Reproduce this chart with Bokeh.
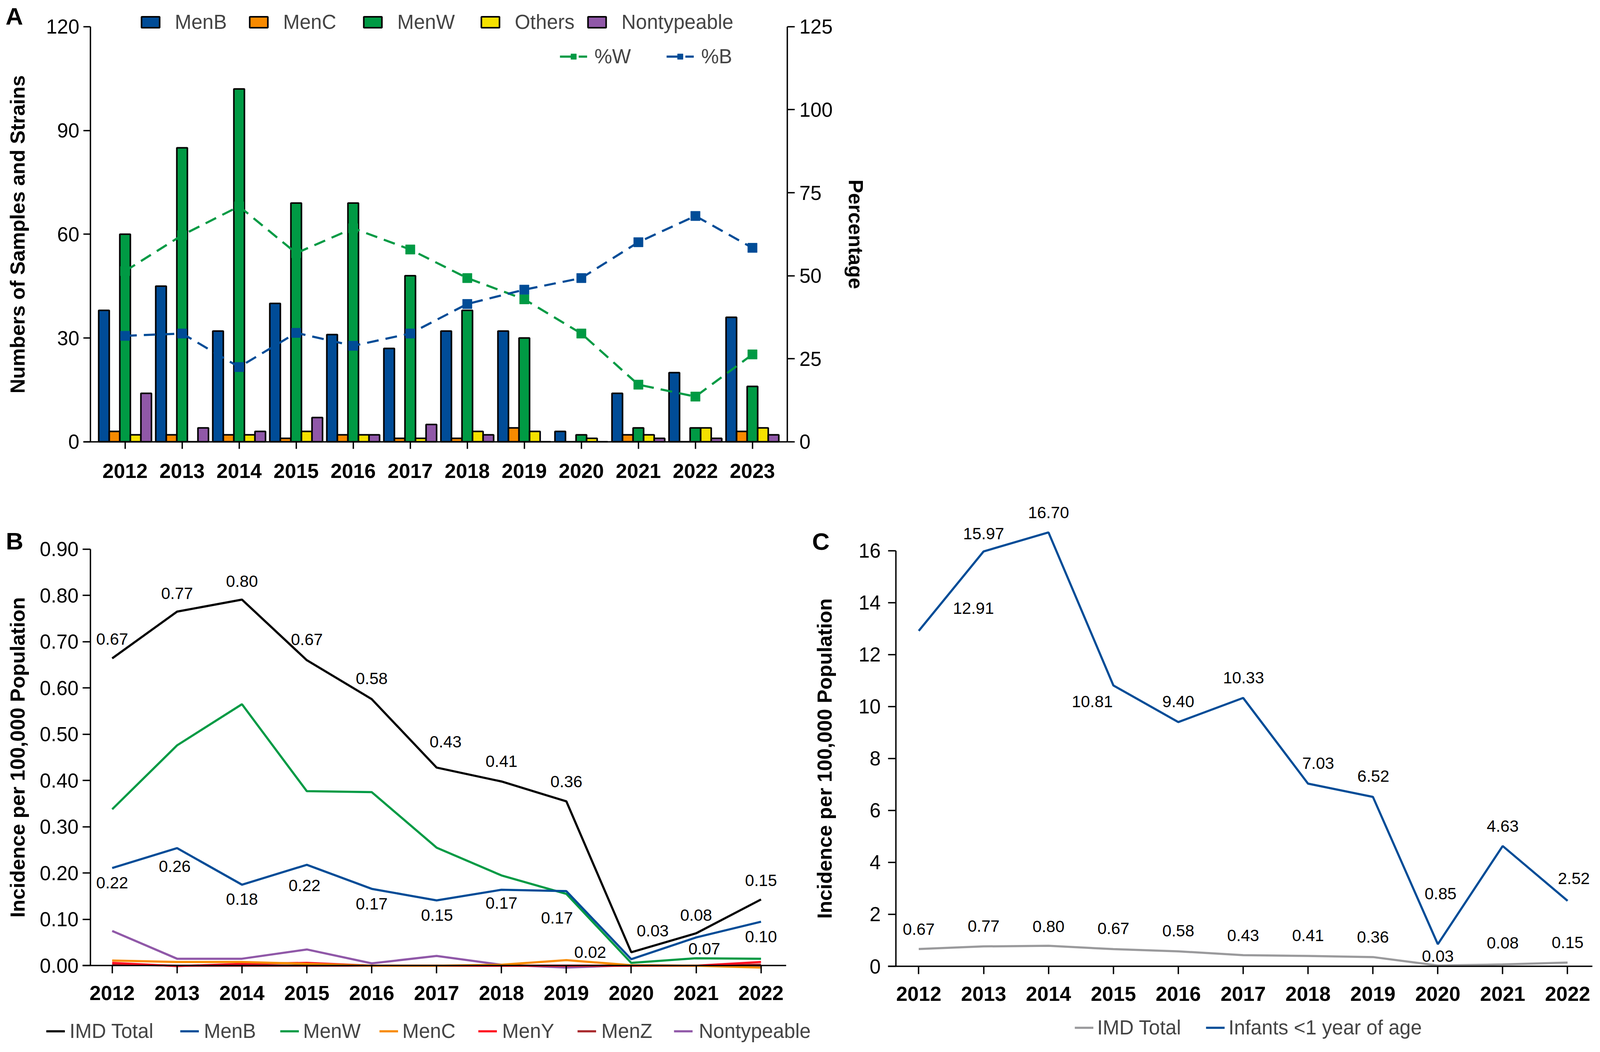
from bokeh.plotting import figure
from bokeh.models import (Range1d, LinearAxis, FixedTicker, PrintfTickFormatter, Legend,
                          LegendItem, Label, ColumnDataSource)
from bokeh.transform import dodge
from bokeh.layouts import column
from bokeh.embed import file_html
from bokeh.resources import INLINE
from bokeh.core.properties import value

FONT = "Liberation Sans"

# ---------------- Panel A data ----------------
years_a = [2012, 2013, 2014, 2015, 2016, 2017, 2018, 2019, 2020, 2021, 2022, 2023]
menb_a = [38, 45, 32, 40, 31, 27, 32, 32, 3, 14, 20, 36]
menc_a = [3, 2, 2, 1, 2, 1, 1, 4, 0, 2, 0, 3]
menw_a = [60, 85, 102, 69, 69, 48, 38, 30, 2, 4, 4, 16]
others_a = [2, 0, 2, 3, 2, 1, 3, 3, 1, 2, 4, 4]
nontype_a = [14, 4, 3, 7, 2, 5, 2, 0, 0, 1, 1, 2]
pct_w = [51.4, 62.2, 70.9, 56.8, 64.3, 57.9, 49.3, 42.9, 32.6, 17.2, 13.6, 26.3]
pct_b = [31.9, 32.6, 22.5, 32.8, 28.9, 32.6, 41.5, 45.8, 49.3, 60.1, 68.0, 58.4]
count_ticks = [0, 30, 60, 90, 120]
pct_ticks = [0, 25, 50, 75, 100, 125]

# ---------------- Panel B data ----------------
years_b = [2012, 2013, 2014, 2015, 2016, 2017, 2018, 2019, 2020, 2021, 2022]
imd_total = [0.664, 0.765, 0.791, 0.660, 0.576, 0.428, 0.398, 0.355, 0.029, 0.070, 0.143]
imd_labels = ["0.67", "0.77", "0.80", "0.67", "0.58", "0.43", "0.41", "0.36", "0.03", "0.08", "0.15"]
menb_b = [0.211, 0.254, 0.175, 0.218, 0.166, 0.141, 0.164, 0.161, 0.014, 0.061, 0.095]
menb_labels = ["0.22", "0.26", "0.18", "0.22", "0.17", "0.15", "0.17", "0.17", "0.02", "0.07", "0.10"]
menw_b = [0.338, 0.476, 0.565, 0.377, 0.375, 0.255, 0.195, 0.155, 0.006, 0.016, 0.015]
menc_b = [0.011, 0.008, 0.008, 0.004, 0.0, 0.0, 0.002, 0.012, 0.001, 0.0, -0.004]
meny_b = [0.006, -0.001, 0.004, 0.006, 0.0, 0.0, 0.0, 0.0, 0.0, 0.0, 0.008]
menz_b = [0.003, 0.0, 0.0, 0.0, 0.0, 0.0, 0.0, 0.0, 0.0, 0.0, 0.002]
nontype_b = [0.075, 0.015, 0.015, 0.035, 0.005, 0.021, 0.002, -0.004, 0.001, 0.0, 0.0]
incid_ticks_b = [0.0, 0.1, 0.2, 0.3, 0.4, 0.5, 0.6, 0.7, 0.8, 0.9]

# ---------------- Panel C data ----------------
infants_c = [12.91, 15.97, 16.70, 10.81, 9.40, 10.33, 7.03, 6.52, 0.85, 4.63, 2.52]
infant_labels = ["12.91", "15.97", "16.70", "10.81", "9.40", "10.33", "7.03", "6.52", "0.85", "4.63", "2.52"]
incid_ticks_c = [0, 2, 4, 6, 8, 10, 12, 14, 16]

# label placement (screen px offsets, +y is downward)
imd_b_dx = [0, 0, 0, 0, 0, 23, 0, 0, 55, 0, 0]
imd_b_dy = [-49, -47, -47, -53, -53, -66, -52, -51, -55, -46, -49]
menb_b_dx = [0, -6, 0, -6, 0, 1, 0, -24, -105, 21, 0]
menb_b_dy = [38, 47, 37, 53, 38, 38, 34, 68, -18, 29, 38]
inf_c_dx = [140, 0, 0, -54, 0, 1, 26, 1, 7, 0, 16]
inf_c_dy = [-58, -46, -51, 41, -53, -52, -52, -53, -129, -51, -57]
imd_c_dx = [0] * 11
imd_c_dy = [-51, -52, -49, -53, -53, -51, -53, -51, -24, -55, -51]

BLUE = "#004C97"
ORANGE = "#F88A00"
GREEN = "#009A44"
YELLOW = "#F5E100"
PURPLE = "#9058A8"
RED = "#FF1020"
DARKRED = "#A8282C"
GREY = "#9A9A9C"


def style_axis(ax, tick_out, label_standoff, title_standoff, bold_labels=False):
    ax.axis_line_width = 3.5
    ax.axis_line_color = "black"
    ax.major_tick_line_width = 3.5
    ax.major_tick_line_color = "black"
    ax.major_tick_in = 0
    ax.major_tick_out = tick_out
    ax.minor_tick_line_color = None
    ax.major_label_text_font = FONT
    ax.major_label_text_font_size = "52px" if bold_labels else "51px"
    ax.major_label_text_font_style = "bold" if bold_labels else "normal"
    ax.major_label_text_color = "black"
    ax.major_label_standoff = label_standoff
    ax.axis_label_text_font = FONT
    ax.axis_label_text_font_size = "52px"
    ax.axis_label_text_font_style = "bold"
    ax.axis_label_text_color = "black"
    ax.axis_label_standoff = title_standoff


def base_fig(**kw):
    p = figure(output_backend="svg", toolbar_location=None,
               min_border_left=0, min_border_right=0, min_border_top=0, min_border_bottom=0, **kw)
    p.title.visible = False
    p.xgrid.grid_line_color = None
    p.ygrid.grid_line_color = None
    p.outline_line_color = None
    p.background_fill_color = "white"
    p.border_fill_color = "white"
    return p


def add_legend(p, label, renderers, x, y, gw, gh, standoff):
    lg = Legend(items=[LegendItem(label=label, renderers=renderers)], location=(x, y),
                orientation="horizontal", glyph_width=gw, glyph_height=gh,
                label_standoff=standoff, label_text_font=FONT, label_text_font_size="51px",
                label_height=57, padding=0, margin=0, spacing=0,
                border_line_color=None, background_fill_alpha=0)
    p.add_layout(lg, "center")


def panel_label(p, text, x, y, **rn):
    p.add_layout(Label(x=x, y=y, text=text,
                       text_font=FONT, text_font_style="bold", text_font_size="62px",
                       text_align="center", text_baseline="middle", text_color="black", **rn))


# ================= Panel A =================
pa = base_fig(width=2232, height=1282,
              x_range=Range1d(2009.8103, 2025.098), y_range=Range1d(-17.069, 127.66))
pa.extra_y_ranges = {"pct": Range1d(-17.069 * 125 / 120, 127.66 * 125 / 120)}
pa.yaxis.ticker = FixedTicker(ticks=count_ticks)
pa.yaxis.bounds = (0, 120)
pa.yaxis.fixed_location = 2011.3897
pa.yaxis.axis_label = "Numbers of Samples and Strains"
style_axis(pa.yaxis[0], 18, 10, 41)
pa.xaxis.ticker = FixedTicker(ticks=years_a)
pa.xaxis.bounds = (2011.27, 2023.6116)
pa.xaxis.fixed_location = 0
style_axis(pa.xaxis[0], 18, 39, 0, bold_labels=True)
rax = LinearAxis(y_range_name="pct", ticker=FixedTicker(ticks=pct_ticks), bounds=(0, 125),
                 axis_label="Percentage", fixed_location=2023.6116)
style_axis(rax, 19, 12, 27)
pa.add_layout(rax, "right")

src_a = ColumnDataSource(dict(year=years_a, menb=menb_a, menc=menc_a, menw=menw_a,
                              others=others_a, nontype=nontype_a))
bar_specs = [("menb", BLUE, -0.37), ("menc", ORANGE, -0.185), ("menw", GREEN, 0.0),
             ("others", YELLOW, 0.185), ("nontype", PURPLE, 0.37)]
bar_r = {}
for key, color, off in bar_specs:
    bar_r[key] = pa.vbar(x=dodge("year", off, range=pa.x_range), top=key, width=0.185,
                         source=src_a, fill_color=color, line_color="black", line_width=4)

lw = pa.line(years_a, pct_w, y_range_name="pct", line_color=GREEN, line_width=5.5, line_dash="30 18")
sw = pa.scatter(years_a, pct_w, y_range_name="pct", marker="square", size=24,
                fill_color=GREEN, line_color=GREEN)
lb = pa.line(years_a, pct_b, y_range_name="pct", line_color=BLUE, line_width=5.5, line_dash="30 18")
sb = pa.scatter(years_a, pct_b, y_range_name="pct", marker="square", size=24,
                fill_color=BLUE, line_color=BLUE)

add_legend(pa, "MenB", [bar_r["menb"]], 355.5, 1196, 58, 35, 34)
add_legend(pa, "MenC", [bar_r["menc"]], 632.7, 1196, 58, 35, 34)
add_legend(pa, "MenW", [bar_r["menw"]], 925, 1196, 58, 35, 34)
add_legend(pa, "Others", [bar_r["others"]], 1225.7, 1196, 58, 35, 34)
add_legend(pa, "Nontypeable", [bar_r["nontype"]], 1499, 1196, 58, 35, 34)
add_legend(pa, "%W", [lw, sw], 1432.7, 1108.5, 70, 35, 19)
add_legend(pa, "%B", [lb, sb], 1706, 1108.5, 70, 35, 19)
panel_label(pa, "A", 2010.057, 123.03)

# ================= Panels B and C (one canvas) =================
pbc = base_fig(width=4090, height=1390,
               x_range=Range1d(2010.2739, 2034.8978), y_range=Range1d(-0.16842, 1.00447))
pbc.extra_x_ranges = {"c": Range1d(1997.843, 2022.4666)}
pbc.extra_y_ranges = {"c": Range1d(-2.976, 17.917)}

# --- B axes
pbc.yaxis.ticker = FixedTicker(ticks=incid_ticks_b)
pbc.yaxis.formatter = PrintfTickFormatter(format="%.2f")
pbc.yaxis.bounds = (0, 0.9)
pbc.yaxis.fixed_location = 2011.6623
pbc.yaxis.axis_label = "Incidence per 100,000 Population"
style_axis(pbc.yaxis[0], 20, 10, 25)
pbc.xaxis.ticker = FixedTicker(ticks=years_b)
pbc.xaxis.bounds = (2011.5443, 2022.3847)
pbc.xaxis.fixed_location = 0
style_axis(pbc.xaxis[0], 20, 32, 0, bold_labels=True)

r_nt = pbc.line(years_b, nontype_b, line_color=PURPLE, line_width=5.5)
r_z = pbc.line(years_b, menz_b, line_color=DARKRED, line_width=5.5)
r_y = pbc.line(years_b, meny_b, line_color=RED, line_width=5.5)
r_c = pbc.line(years_b, menc_b, line_color=ORANGE, line_width=5.5)
r_w = pbc.line(years_b, menw_b, line_color=GREEN, line_width=5.5)
r_b = pbc.line(years_b, menb_b, line_color=BLUE, line_width=5.5)
r_t = pbc.line(years_b, imd_total, line_color="black", line_width=5.5)

src_bt = ColumnDataSource(dict(x=years_b, y=imd_total, t=imd_labels, dx=imd_b_dx, dy=imd_b_dy))
src_bb = ColumnDataSource(dict(x=years_b, y=menb_b, t=menb_labels, dx=menb_b_dx, dy=menb_b_dy))
for s in (src_bt, src_bb):
    pbc.text(x="x", y="y", text="t", x_offset="dx", y_offset="dy", source=s,
             text_font=value(FONT), text_font_size="42px", text_align="center",
             text_baseline="middle", text_color="black")

vyb = 2
add_legend(pbc, "IMD Total", [r_t], 118, vyb, 48, 35, 12)
add_legend(pbc, "MenB", [r_b], 461, vyb, 48, 35, 13)
add_legend(pbc, "MenW", [r_w], 717, vyb, 48, 35, 11)
add_legend(pbc, "MenC", [r_c], 971, vyb, 48, 35, 11)
add_legend(pbc, "MenY", [r_y], 1223.6, vyb, 48, 35, 14)
add_legend(pbc, "MenZ", [r_z], 1477.6, vyb, 48, 35, 14)
add_legend(pbc, "Nontypeable", [r_nt], 1725, vyb, 48, 35, 16)
panel_label(pbc, "B", 2010.4967, 0.9176)

# --- C axes
cy = LinearAxis(x_range_name="c", y_range_name="c", ticker=FixedTicker(ticks=incid_ticks_c),
                bounds=(0, 16), fixed_location=2011.649,
                axis_label="Incidence per 100,000 Population")
style_axis(cy, 20, 19, 55)
pbc.add_layout(cy, "left")
cx = LinearAxis(x_range_name="c", y_range_name="c", ticker=FixedTicker(ticks=years_b),
                bounds=(2011.529, 2022.382), fixed_location=0)
style_axis(cx, 20, 32, 0, bold_labels=True)
pbc.add_layout(cx, "below")

rc_t = pbc.line(years_b, imd_total, x_range_name="c", y_range_name="c",
                line_color=GREY, line_width=5.5)
rc_i = pbc.line(years_b, infants_c, x_range_name="c", y_range_name="c",
                line_color=BLUE, line_width=5.5)
src_ci = ColumnDataSource(dict(x=years_b, y=infants_c, t=infant_labels, dx=inf_c_dx, dy=inf_c_dy))
src_ct = ColumnDataSource(dict(x=years_b, y=imd_total, t=imd_labels, dx=imd_c_dx, dy=imd_c_dy))
for s in (src_ci, src_ct):
    pbc.text(x="x", y="y", text="t", x_offset="dx", y_offset="dy", source=s,
             x_range_name="c", y_range_name="c",
             text_font=value(FONT), text_font_size="42px", text_align="center",
             text_baseline="middle", text_color="black")

add_legend(pbc, "IMD Total", [rc_t], 2750.8, 11, 48, 35, 10)
add_legend(pbc, "Infants <1 year of age", [rc_i], 3087, 11, 48, 35, 10)
panel_label(pbc, "C", 2010.4907, 16.353, x_range_name="c", y_range_name="c")

layout = column(pa, pbc)
open("out.html", "w").write(file_html(layout, INLINE))
